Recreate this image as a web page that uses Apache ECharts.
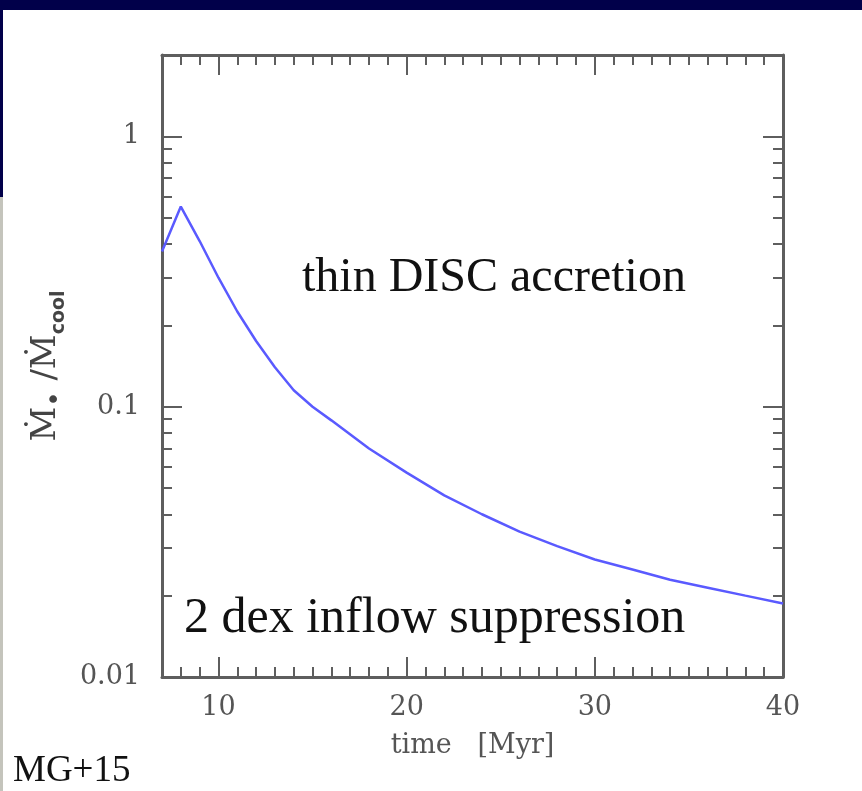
<!DOCTYPE html>
<html>
<head>
<meta charset="utf-8">
<script src="https://cdn.jsdelivr.net/npm/echarts@6/dist/echarts.min.js"></script>
<style>
  html, body { margin: 0; padding: 0; background: #fff; }
  #main { width: 862px; height: 791px; }
</style>
</head>
<body>
<div id="main"></div>
<script>
// time in Myr and accretion ratio
var times = [7, 8, 9, 10, 11, 12, 13, 14, 15, 16, 18, 20, 22, 24, 26, 28, 30, 32, 34, 36, 38, 40];
var ratio = [0.375, 0.55, 0.41, 0.30, 0.225, 0.175, 0.14, 0.115, 0.1, 0.089, 0.07, 0.057, 0.047, 0.04, 0.0345, 0.0305, 0.0272, 0.025, 0.0229, 0.0214, 0.02, 0.0187];

var xMajor = [10, 20, 30, 40];
var xMinor = [8, 9, 11, 12, 13, 14, 15, 16, 17, 18, 19, 21, 22, 23, 24, 25, 26, 27, 28, 29, 31, 32, 33, 34, 35, 36, 37, 38, 39];
var yMajor = [0.01, 0.1, 1];
var yMinor = [0.02, 0.03, 0.04, 0.05, 0.06, 0.07, 0.08, 0.09, 0.2, 0.3, 0.4, 0.5, 0.6, 0.7, 0.8, 0.9, 2];
var yLabels = ['0.01', '0.1', '1'];

var axisCol = '#5e5e5e';
var labelFont = 'DejaVu Serif';

function xAx(pos, ticks, len, labels, line) {
    return {
        type: 'value', position: pos, min: 7, max: 40,
        axisLine: { show: line, lineStyle: { color: axisCol, width: 3 } },
        axisTick: { show: true, inside: true, length: len, customValues: ticks,
            lineStyle: { color: axisCol, width: 2 } },
        axisLabel: labels ? { show: true, customValues: ticks, margin: 17,
            color: '#555', fontFamily: labelFont, fontSize: 27 } : { show: false },
        splitLine: { show: false }
    };
}
function yAx(pos, ticks, len, labels, line) {
    return {
        type: 'log', position: pos, min: 0.01, max: 2, logBase: 10,
        axisLine: { show: line, lineStyle: { color: axisCol, width: 3 } },
        axisTick: { show: true, inside: true, length: len, customValues: ticks,
            lineStyle: { color: axisCol, width: 2 } },
        axisLabel: labels ? { show: true, customValues: ticks, margin: 22,
            color: '#555', fontFamily: labelFont, fontSize: 27,
            formatter: function(v) {
                var i = yMajor.indexOf(Number(v));
                return i >= 0 ? yLabels[i] : '';
            } } : { show: false },
        splitLine: { show: false }
    };
}

var xAxes = [
    xAx('bottom', xMajor, 20, true, true),
    xAx('bottom', xMinor, 10, false, false),
    xAx('top', xMajor, 20, false, true),
    xAx('top', xMinor, 10, false, false)
];
xAxes[0].name = 'time   [Myr]';
xAxes[0].nameLocation = 'middle';
xAxes[0].nameGap = 55;
xAxes[0].nameTextStyle = { color: '#555', fontFamily: labelFont, fontSize: 27 };

var yAxes = [
    yAx('left', yMajor, 20, true, true),
    yAx('left', yMinor, 10, false, false),
    yAx('right', yMajor, 20, false, true),
    yAx('right', yMinor, 10, false, false)
];
yAxes[0].name = '{m|Ṁ}{b|•}{m| /Ṁ}{s|cool}';
yAxes[0].nameLocation = 'middle';
yAxes[0].nameRotate = 90;
yAxes[0].nameGap = 92;
yAxes[0].nameTextStyle = {
    rich: {
        m: { fontFamily: 'DejaVu Serif', fontSize: 34, color: '#444', lineHeight: 46 },
        b: { fontFamily: 'DejaVu Sans', fontSize: 26, color: '#444', verticalAlign: 'bottom', lineHeight: 46 },
        s: { fontFamily: 'DejaVu Sans', fontSize: 19, fontWeight: 'bold', color: '#444', verticalAlign: 'bottom', lineHeight: 46 }
    }
};

var pts = [];
for (var i = 0; i < times.length; i++) pts.push([times[i], ratio[i]]);

var chart = echarts.init(document.getElementById('main'), null, { renderer: 'canvas' });
chart.setOption({
    backgroundColor: '#ffffff',
    animation: false,
    grid: { left: 162, right: 79, top: 55, bottom: 114, containLabel: false },
    xAxis: xAxes,
    yAxis: yAxes,
    graphic: [
        { type: 'rect', shape: { x: 0, y: 0, width: 862, height: 10 }, style: { fill: '#01004a' } },
        { type: 'rect', shape: { x: 0, y: 0, width: 3, height: 197 }, style: { fill: '#01004a' } },
        { type: 'rect', shape: { x: 0, y: 197, width: 3, height: 594 }, style: { fill: '#c4c4bc' } },
        { type: 'text', left: 302, top: 254, style: { text: 'thin DISC accretion', fontFamily: 'Liberation Serif', fontSize: 48, fill: '#111' } },
        { type: 'text', left: 184, top: 594, style: { text: '2 dex inflow suppression', fontFamily: 'Liberation Serif', fontSize: 50, fill: '#111' } },
        { type: 'text', left: 13, top: 753, style: { text: 'MG+15', fontFamily: 'Liberation Serif', fontSize: 37, fill: '#111' } }
    ],
    series: [{
        type: 'line',
        xAxisIndex: 0,
        yAxisIndex: 0,
        data: pts,
        showSymbol: false,
        smooth: false,
        lineStyle: { color: '#5a5aff', width: 2.5 }
    }]
});
</script>
</body>
</html>
